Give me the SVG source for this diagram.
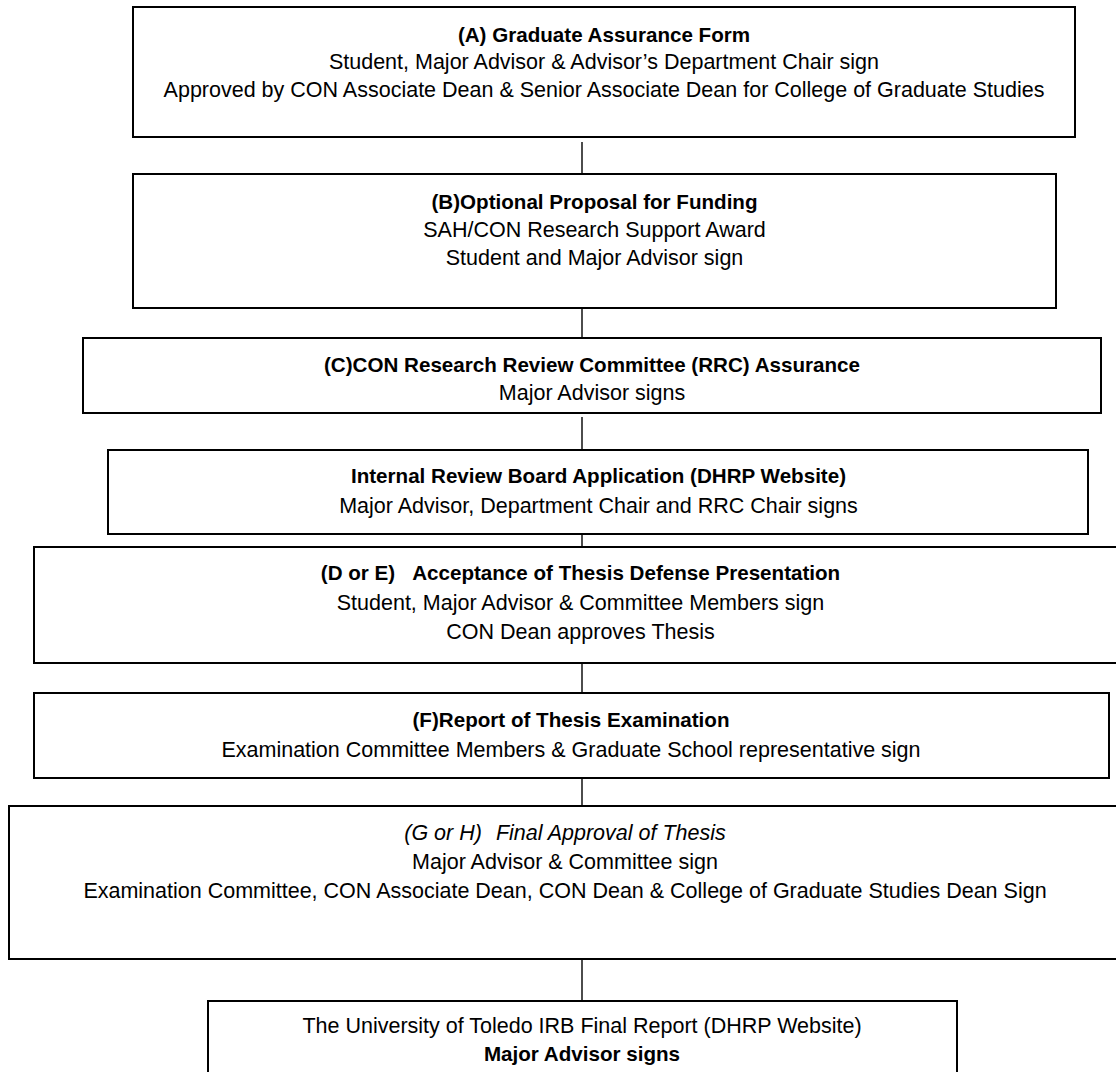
<svg xmlns="http://www.w3.org/2000/svg" width="1116" height="1072" viewBox="0 0 1116 1072">
<style>
.box{fill:#fff;stroke:#000;stroke-width:2}
.conn{stroke:#000;stroke-width:1.4;fill:none}
text{font-family:"Liberation Sans",Arial,sans-serif;font-size:21.5px;fill:#000;text-anchor:middle}
.b{font-weight:bold;font-size:20.6px}
.i{font-style:italic}
</style>
<rect width="1116" height="1072" fill="#fff"/>
<g id="connectors">
<line class="conn" x1="582" y1="142" x2="582" y2="175"/>
<line class="conn" x1="582" y1="303" x2="582" y2="338"/>
<line class="conn" x1="582" y1="417" x2="582" y2="452"/>
<line class="conn" x1="582" y1="530" x2="582" y2="548"/>
<line class="conn" x1="582" y1="660" x2="582" y2="693"/>
<line class="conn" x1="582" y1="773" x2="582" y2="808"/>
<line class="conn" x1="582" y1="952" x2="582" y2="1002"/>
</g>
<g id="nodeA">
<rect class="box" x="133" y="7" width="942" height="130"/>
<text x="604" y="42" class="b">(A) Graduate Assurance Form</text>
<text x="604" y="69">Student, Major Advisor &amp; Advisor’s Department Chair sign</text>
<text x="604" y="97">Approved by CON Associate Dean &amp; Senior Associate Dean for College of Graduate Studies</text>
</g>
<g id="nodeB">
<rect class="box" x="133" y="174" width="923" height="134"/>
<text x="594.5" y="209" class="b">(B)Optional Proposal for Funding</text>
<text x="594.5" y="237">SAH/CON Research Support Award</text>
<text x="594.5" y="265">Student and Major Advisor sign</text>
</g>
<g id="nodeC">
<rect class="box" x="83" y="338" width="1018" height="75"/>
<text x="592" y="372" class="b">(C)CON Research Review Committee (RRC) Assurance</text>
<text x="592" y="400">Major Advisor signs</text>
</g>
<g id="nodeIRB">
<rect class="box" x="108" y="450" width="980" height="84"/>
<text x="598.5" y="483" class="b">Internal Review Board Application (DHRP Website)</text>
<text x="598.5" y="513">Major Advisor, Department Chair and RRC Chair signs</text>
</g>
<g id="nodeDE">
<rect class="box" x="34" y="547" width="1094" height="116"/>
<text x="580.5" y="580" class="b">(D or E)<tspan dx="17">Acceptance of Thesis Defense Presentation</tspan></text>
<text x="580.5" y="610">Student, Major Advisor &amp; Committee Members sign</text>
<text x="580.5" y="639">CON Dean approves Thesis</text>
</g>
<g id="nodeF">
<rect class="box" x="34" y="693" width="1075" height="85"/>
<text x="571" y="727" class="b">(F)Report of Thesis Examination</text>
<text x="571" y="757">Examination Committee Members &amp; Graduate School representative sign</text>
</g>
<g id="nodeGH">
<rect class="box" x="9" y="806" width="1112" height="153"/>
<text x="565" y="840" class="i">(G or H)<tspan dx="14">Final Approval of Thesis</tspan></text>
<text x="565" y="869">Major Advisor &amp; Committee sign</text>
<text x="565" y="898">Examination Committee, CON Associate Dean, CON Dean &amp; College of Graduate Studies Dean Sign</text>
</g>
<g id="nodeFinal">
<rect class="box" x="208" y="1001" width="749" height="90"/>
<text x="582" y="1033">The University of Toledo IRB Final Report (DHRP Website)</text>
<text x="582" y="1061" class="b">Major Advisor signs</text>
</g>
</svg>
